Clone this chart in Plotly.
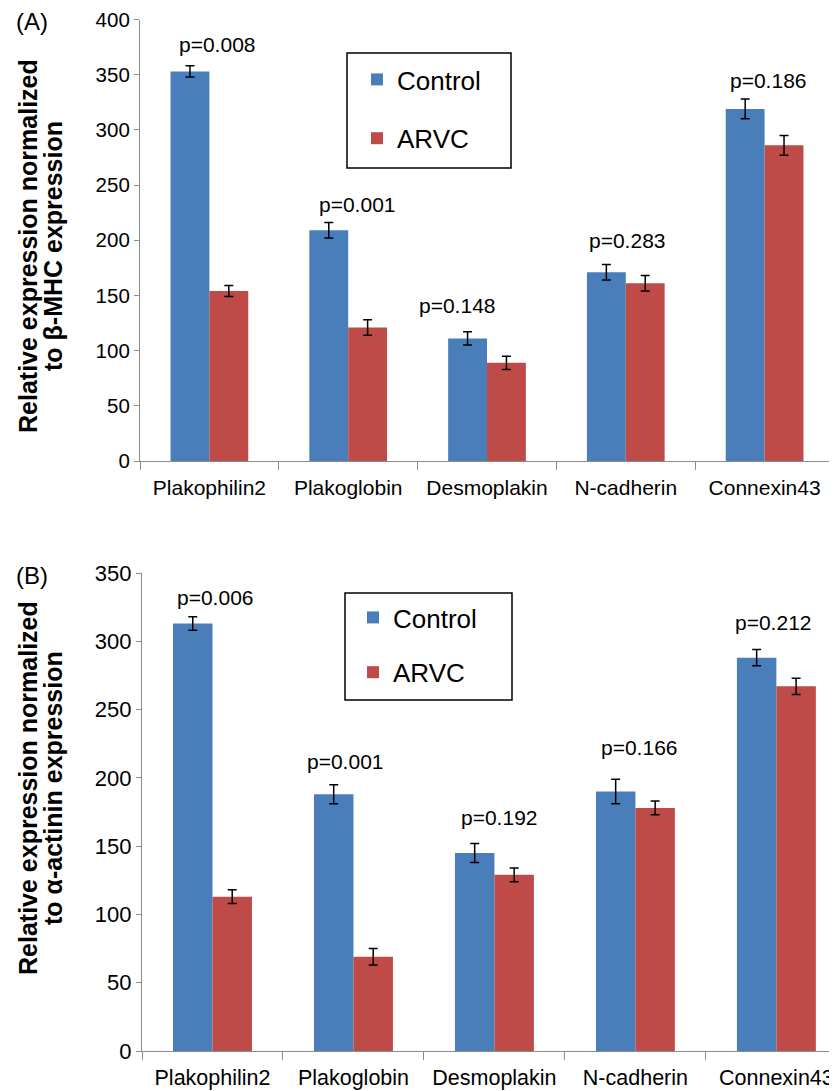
import plotly.graph_objects as go

# the page body adds an 8px margin; build the figure so the visible window matches
OFF = 8
W, H = 837 - OFF, 1091 - OFF

categories = ["Plakophilin2", "Plakoglobin", "Desmoplakin", "N-cadherin", "Connexin43"]

# Panel A: normalized to beta-MHC
a_control = [353, 209, 111, 171, 319]
a_control_err = [5, 7, 6, 7, 9]
a_arvc = [154, 121, 89, 161, 286]
a_arvc_err = [5, 7, 6, 7, 9]
a_pvals = ["p=0.008", "p=0.001", "p=0.148", "p=0.283", "p=0.186"]
a_p_y = [377, 232, 141, 200, 345]
a_p_dx = [0.06, 0.065, -0.21, 0.01, 0.03]

# Panel B: normalized to alpha-actinin
b_control = [313, 188, 145, 190, 288]
b_control_err = [5, 7, 7, 9, 6]
b_arvc = [113, 69, 129, 178, 267]
b_arvc_err = [5, 6, 5, 5, 6]
b_pvals = ["p=0.006", "p=0.001", "p=0.192", "p=0.166", "p=0.212"]
b_p_y = [332, 212, 171, 222, 314]
b_p_dx = [0.02, -0.06, 0.035, 0.03, -0.02]

BLUE = "#4A7EBB"
RED = "#BE4B48"
FONT = "Liberation Sans, Arial, sans-serif"

def px_x(p):
    return (p - OFF) / W

def px_y(p):
    return (H - (p - OFF)) / H

fig = go.Figure()

def add_bars(ctrl, ctrl_e, arvc, arvc_e, xa, ya, legend):
    xs = list(range(len(categories)))
    fig.add_trace(go.Bar(
        x=xs, y=ctrl, name="Control", marker_color=BLUE, marker_line_width=0,
        error_y=dict(type="data", array=ctrl_e, color="black", thickness=1.5, width=4.5),
        xaxis=xa, yaxis=ya, legend=legend, legendgroup=legend + "c"))
    fig.add_trace(go.Bar(
        x=xs, y=arvc, name="ARVC", marker_color=RED, marker_line_width=0,
        error_y=dict(type="data", array=arvc_e, color="black", thickness=1.5, width=4.5),
        xaxis=xa, yaxis=ya, legend=legend, legendgroup=legend + "a"))

add_bars(a_control, a_control_err, a_arvc, a_arvc_err, "x", "y", "legend")
add_bars(b_control, b_control_err, b_arvc, b_arvc_err, "x2", "y2", "legend2")

axis_common = dict(showgrid=False, zeroline=False, showline=True, linecolor="#8c8c8c",
                   linewidth=1.2, tickcolor="#8c8c8c", tickwidth=1.2, automargin=False,
                   ticklabeloverflow="allow")

xa_dom = [px_x(140), px_x(834)]
ya_dom = [px_y(461), px_y(19.5)]
xb_dom = [px_x(142), 1.0]
yb_dom = [px_y(1051), px_y(573)]

boundaries = [-0.5, 0.5, 1.5, 2.5, 3.5, 4.5]
minor_ticks = dict(tickvals=boundaries, ticks="outside", ticklen=8,
                   tickcolor="#8c8c8c", tickwidth=1.2)

fig.update_layout(
    width=W, height=H,
    margin=dict(l=0, r=0, t=0, b=0, pad=0),
    paper_bgcolor="white", plot_bgcolor="white",
    barmode="group", bargap=0.44, bargroupgap=0,
    font=dict(family=FONT, color="black"),
    xaxis=dict(domain=xa_dom, anchor="y", range=[-0.5, 4.5], tickmode="array",
               tickvals=list(range(5)), ticktext=categories, ticks="",
               minor=minor_ticks, ticklabelstandoff=8,
               tickfont=dict(size=21), **axis_common),
    yaxis=dict(domain=ya_dom, anchor="x", range=[0, 400], tickvals=list(range(0, 401, 50)),
               ticks="outside", ticklen=5, tickfont=dict(size=20.5), **axis_common),
    xaxis2=dict(domain=xb_dom, anchor="y2", range=[-0.5, 4.43], tickmode="array",
                tickvals=list(range(5)), ticktext=categories, ticks="",
                minor=minor_ticks, ticklabelstandoff=7,
                tickfont=dict(size=21.5), **axis_common),
    yaxis2=dict(domain=yb_dom, anchor="x2", range=[0, 350], tickvals=list(range(0, 351, 50)),
                ticks="outside", ticklen=5, tickfont=dict(size=22), **axis_common),
    legend=dict(x=px_x(357), y=px_y(56), xanchor="left", yanchor="top",
                font=dict(size=26), bgcolor="rgba(0,0,0,0)", borderwidth=0,
                traceorder="grouped", tracegroupgap=22),
    legend2=dict(x=px_x(353), y=px_y(594), xanchor="left", yanchor="top",
                 font=dict(size=26), bgcolor="rgba(0,0,0,0)", borderwidth=0,
                 traceorder="grouped", tracegroupgap=18),
    showlegend=True,
)

# legend boxes
fig.add_shape(type="rect", xref="paper", yref="paper",
              x0=px_x(347), x1=px_x(511), y0=px_y(168), y1=px_y(53),
              line=dict(color="black", width=1.5))
fig.add_shape(type="rect", xref="paper", yref="paper",
              x0=px_x(345), x1=px_x(512), y0=px_y(700), y1=px_y(593),
              line=dict(color="black", width=1.5))

# p-value annotations
for i, (t, yv, dx) in enumerate(zip(a_pvals, a_p_y, a_p_dx)):
    fig.add_annotation(x=i + dx, y=yv, xref="x", yref="y", text=t, showarrow=False,
                       font=dict(size=21), xanchor="center", yanchor="middle")
for i, (t, yv, dx) in enumerate(zip(b_pvals, b_p_y, b_p_dx)):
    fig.add_annotation(x=i + dx, y=yv, xref="x2", yref="y2", text=t, showarrow=False,
                       font=dict(size=21), xanchor="center", yanchor="middle")

# panel labels
fig.add_annotation(x=px_x(14), y=px_y(22), xref="paper", yref="paper", text="(A)",
                   showarrow=False, font=dict(size=24), xanchor="left", yanchor="middle")
fig.add_annotation(x=px_x(14), y=px_y(575), xref="paper", yref="paper", text="(B)",
                   showarrow=False, font=dict(size=24), xanchor="left", yanchor="middle")

# y-axis titles (two lines each)
titles = [
    ("<b>Relative expression normalized</b>", 28, 246),
    ("<b>to β-MHC expression</b>", 53, 246),
    ("<b>Relative expression normalized</b>", 28, 788),
    ("<b>to α-actinin expression</b>", 53, 788),
]
for t, xp, yp in titles:
    fig.add_annotation(x=px_x(xp), y=px_y(yp), xref="paper", yref="paper", text=t,
                       showarrow=False, textangle=-90, font=dict(size=25),
                       xanchor="center", yanchor="middle")

fig.write_html("out.html")
